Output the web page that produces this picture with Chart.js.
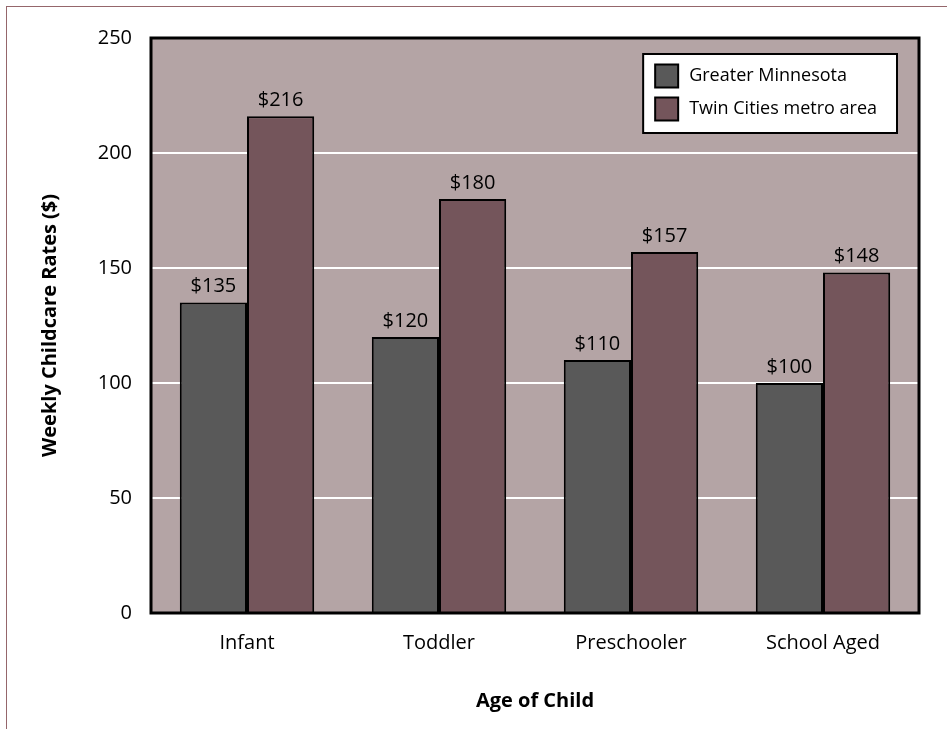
<!DOCTYPE html>
<html>
<head>
<meta charset="utf-8">
<script src="https://cdn.jsdelivr.net/npm/chart.js@4"></script>
<style>
  html, body { margin: 0; padding: 0; background: #fff; }
  #wrap { position: relative; width: 947px; height: 729px; }
  #frame { position: absolute; left: 6px; top: 6px; right: 0; bottom: 0;
           border-left: 1px solid #95666b; border-top: 1px solid #95666b; }
  canvas { position: absolute; left: 0; top: 0; }
</style>
</head>
<body>
<div id="wrap">
  <div id="frame"></div>
  <canvas id="myChart" width="947" height="729"></canvas>
</div>
<script>
const ageGroups = ["Infant", "Toddler", "Preschooler", "School Aged"];
const greaterMN = [135, 120, 110, 100];
const twinCities = [216, 180, 157, 148];
const seriesNames = ["Greater Minnesota", "Twin Cities metro area"];

const FONT = "'Open Sans', sans-serif";
const PLOT_BG = "#b4a4a5";

// plot background, drawn before grid lines
const plotBackground = {
    id: 'plot_background',
    beforeDraw: (chart) => {
        const {ctx, chartArea} = chart;
        ctx.save();
        ctx.fillStyle = PLOT_BG;
        ctx.fillRect(chartArea.left, chartArea.top, chartArea.right - chartArea.left, chartArea.bottom - chartArea.top);
        ctx.restore();
    }
};

// "$xxx" text above each bar
const valueLabels = {
    id: 'value_labels',
    afterDatasetsDraw: (chart) => {
        const {ctx} = chart;
        ctx.save();
        ctx.font = "20px " + FONT;
        ctx.fillStyle = "#000";
        ctx.textAlign = "center";
        ctx.textBaseline = "bottom";
        chart.data.datasets.forEach((ds, di) => {
            chart.getDatasetMeta(di).data.forEach((bar, i) => {
                ctx.fillText("$" + ds.data[i], bar.x, bar.y - 6);
            });
        });
        ctx.restore();
    }
};

// black frame round the plot and the boxed legend in its top right corner
const frameAndLegend = {
    id: 'frame_legend',
    afterDraw: (chart) => {
        const {ctx, chartArea} = chart;
        ctx.save();
        ctx.strokeStyle = "#000";
        ctx.lineWidth = 3;
        ctx.strokeRect(chartArea.left, chartArea.top, chartArea.right - chartArea.left, chartArea.bottom - chartArea.top);

        ctx.font = "18px " + FONT;
        const widths = chart.data.datasets.map(ds => ctx.measureText(ds.label).width);
        const boxW = 12 + 23 + 11 + Math.max(...widths) + 20;
        const boxH = 79;
        const boxX = chartArea.right - 22 - boxW;
        const boxY = chartArea.top + 16;
        ctx.fillStyle = "#fff";
        ctx.fillRect(boxX, boxY, boxW, boxH);
        ctx.lineWidth = 2;
        ctx.strokeRect(boxX, boxY, boxW, boxH);

        ctx.textBaseline = "middle";
        ctx.textAlign = "left";
        chart.data.datasets.forEach((ds, di) => {
            const cy = boxY + 22 + di * 33;
            ctx.fillStyle = ds.backgroundColor;
            ctx.fillRect(boxX + 12, cy - 11.5, 23, 23);
            ctx.lineWidth = 2;
            ctx.strokeStyle = "#000";
            ctx.strokeRect(boxX + 12, cy - 11.5, 23, 23);
            ctx.fillStyle = "#000";
            ctx.fillText(ds.label, boxX + 46, cy);
        });
        ctx.restore();
    }
};

const ctx = document.getElementById("myChart").getContext("2d");
new Chart(ctx, {
    type: 'bar',
    data: {
        labels: ageGroups,
        datasets: [
            { label: seriesNames[0], data: greaterMN, backgroundColor: "#595959", borderColor: "#000", borderWidth: 2 },
            { label: seriesNames[1], data: twinCities, backgroundColor: "#74555b", borderColor: "#000", borderWidth: 2 }
        ]
    },
    options: {
        responsive: false,
        animation: false,
        events: [],
        layout: { padding: { top: 38, right: 28, left: 0, bottom: 0 } },
        datasets: { bar: { barPercentage: 1.0, categoryPercentage: 0.70 } },
        plugins: { legend: { display: false }, tooltip: { enabled: false } },
        scales: {
            x: {
                grid: { display: false, drawTicks: false },
                border: { display: false },
                ticks: { color: "#000", font: { family: FONT, size: 20 }, padding: 18 },
                title: { display: true, text: "Age of Child", color: "#000",
                         font: { family: FONT, size: 20, weight: 'bold' }, padding: { bottom: 16 } },
                afterFit: (scale) => { scale.height = 116; }
            },
            y: {
                min: 0, max: 250,
                grid: { color: "#fff", lineWidth: 2, drawTicks: false },
                border: { display: false },
                ticks: { stepSize: 50, color: "#000", font: { family: FONT, size: 20 }, padding: 19 },
                title: { display: true, text: "Weekly Childcare Rates ($)", color: "#000",
                         font: { family: FONT, size: 20, weight: 'bold' }, padding: { top: 38 } },
                afterFit: (scale) => { scale.width = 151; }
            }
        }
    },
    plugins: [plotBackground, valueLabels, frameAndLegend]
});
</script>
</body>
</html>
